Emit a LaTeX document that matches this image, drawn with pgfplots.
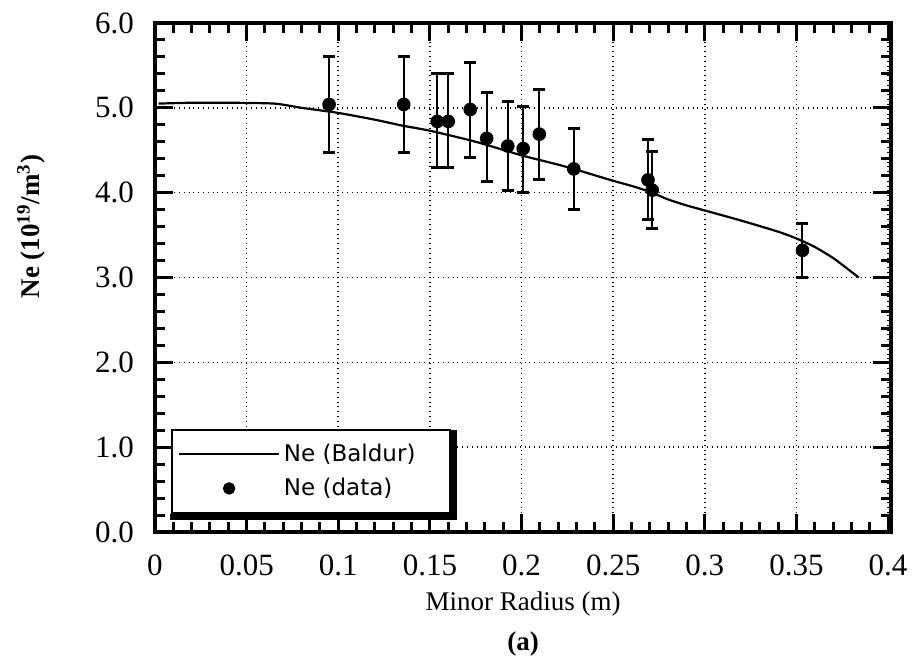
\documentclass[border=0pt]{standalone}
\usepackage{pgfplots}
\usepackage{fontspec}
\pgfplotsset{compat=1.18}
\setmainfont{Liberation Serif}
\newfontfamily\legfont{DejaVu Sans}

\begin{document}
\begin{tikzpicture}
\begin{axis}[
    name=ax,
    scale only axis,
    width=368pt, height=254.5pt,
    xmin=0, xmax=0.4016,
    ymin=0, ymax=6,
    xtick={0,0.05,...,0.4},
    xticklabels={0,0.05,0.1,0.15,0.2,0.25,0.3,0.35,0.4},
    ytick={0,1,...,6},
    minor x tick num=4,
    minor y tick num=4,
    /pgf/number format/assume math mode=true,
    tick label style={font=\fontsize{15.5}{18}\selectfont},
    xticklabel style={yshift=-8pt},
    yticklabel style={xshift=-7pt},
    yticklabel={\pgfmathprintnumber[fixed, fixed zerofill, precision=1]{\tick}},
    tick align=inside,
    major tick length=9pt,
    minor tick length=5pt,
    tick style={black, line width=1.5pt},
    axis line style={line width=2pt},
    grid=major,
    major grid style={black, dotted, line width=0.8pt},
    xlabel={Minor Radius (m)\\[4pt]\textbf{(a)}},
    xlabel style={font=\fontsize{13.5}{16}\selectfont, align=center, yshift=-1pt},
    ylabel={\textbf{Ne (10\textsuperscript{19}/m\textsuperscript{3})}},
    every axis y label/.style={at={(axis description cs:-0.168,0.60)}, rotate=90, anchor=center,
        font=\fontsize{13.5}{15}\selectfont},
    legend style={name=leg, at={(axis description cs:0.022,0.036)}, anchor=south west,
        draw=black, line width=1pt, fill=white,
        font=\legfont\fontsize{11.5}{13}\selectfont,
        inner xsep=3pt, inner ysep=5pt, row sep=3pt},
    legend cell align=left,
]
\addplot[black, line width=1.1pt, smooth, tension=0.4,
    legend image code/.code={\draw[black, line width=0.9pt] (0pt,0pt) -- (50pt,0pt);}]
coordinates {
    (0.002,5.05) (0.02,5.06) (0.04,5.06) (0.065,5.05) (0.08,5.00)
    (0.10,4.94) (0.12,4.86) (0.135,4.79) (0.15,4.73) (0.175,4.60)
    (0.20,4.44) (0.22,4.33) (0.23,4.27) (0.25,4.14) (0.26,4.08)
    (0.27,4.01) (0.28,3.92) (0.29,3.85) (0.30,3.79) (0.32,3.67)
    (0.34,3.54) (0.35,3.46) (0.36,3.36) (0.37,3.23) (0.378,3.10)
    (0.384,3.0)
};
\addlegendentry{Ne (Baldur)\kern 12pt\null}
\addplot[black, only marks, mark=*, mark size=3.2pt,
    error bars/.cd, y dir=both, y explicit,
    error bar style={line width=1pt},
    error mark options={line width=1.5pt, mark size=3pt, rotate=90},
    /pgfplots/legend image code/.code={\fill[black] (25pt,0pt) circle (2.6pt);}]
table[x=x, y=y, y error plus=ep, y error minus=em] {
    x      y     ep    em
    0.095  5.04  0.56  0.57
    0.1357 5.04  0.56  0.57
    0.154  4.84  0.56  0.54
    0.160  4.84  0.56  0.54
    0.172  4.98  0.56  0.57
    0.181  4.64  0.54  0.51
    0.1925 4.55  0.52  0.52
    0.2009 4.52  0.50  0.52
    0.2097 4.69  0.53  0.54
    0.2285 4.28  0.48  0.48
    0.269  4.15  0.48  0.47
    0.2713 4.03  0.45  0.45
    0.3533 3.32  0.32  0.32
};
\addlegendentry{Ne (data)}
\end{axis}
% heavy lower and right edge of the legend box
\draw[black, line width=3pt]
    ([xshift=-0.5pt,yshift=-1.5pt]leg.south west) -- ([xshift=1.5pt,yshift=-1.5pt]leg.south east)
    -- ([xshift=1.5pt,yshift=-0.5pt]leg.north east);
% white margins of the page
\path ([yshift=11.5pt]ax.north) ([yshift=-62pt]ax.south)
      ([xshift=-77.5pt]ax.west) ([xshift=12pt]ax.east);
\end{tikzpicture}
\end{document}
